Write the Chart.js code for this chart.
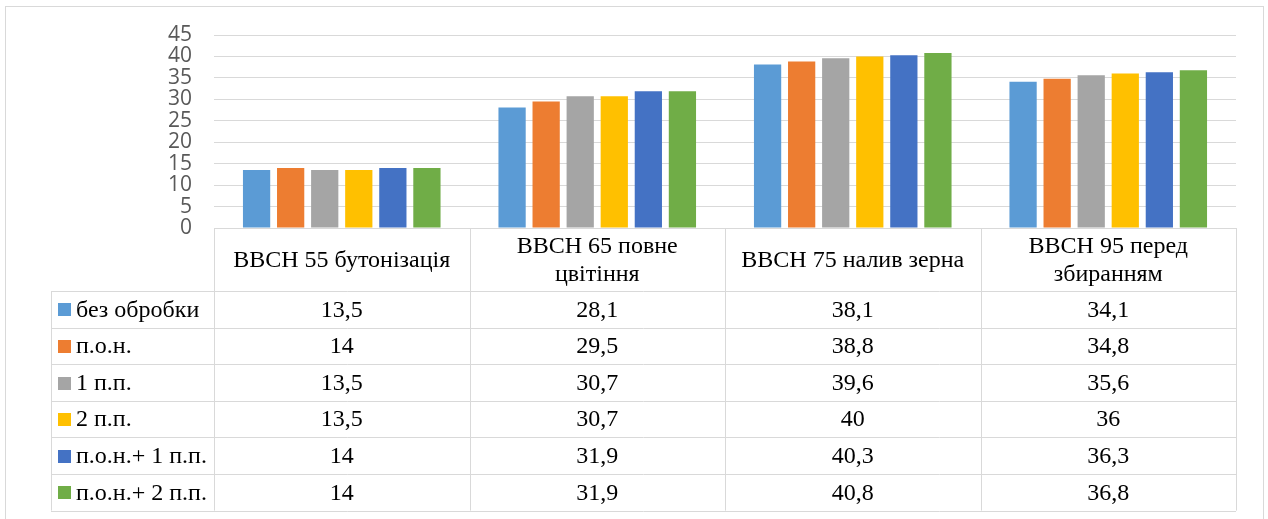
<!DOCTYPE html>
<html>
<head>
<meta charset="utf-8">
<script src="https://cdn.jsdelivr.net/npm/chart.js@4/dist/chart.umd.min.js"></script>
<style>
    html, body { margin: 0; padding: 0; background: #fff; }
    #wrap { width: 1268px; height: 519px; position: relative; }
</style>
</head>
<body>
<div id="wrap"><canvas id="growth"></canvas></div>
<script>
// categories (table header) - array of lines per cell
var categories = [
    ['ВВСН 55 бутонізація'],
    ['ВВСН 65 повне', 'цвітіння'],
    ['ВВСН 75 налив зерна'],
    ['ВВСН 95 перед', 'збиранням']
];
var seriesNames = ['без обробки', 'п.о.н.', '1 п.п.', '2 п.п.', 'п.о.н.+ 1 п.п.', 'п.о.н.+ 2 п.п.'];
var seriesColors = ['#5B9BD5', '#ED7D31', '#A5A5A5', '#FFC000', '#4472C4', '#70AD47'];

var bezObrobky = [13.5, 28.1, 38.1, 34.1];
var pon = [14, 29.5, 38.8, 34.8];
var pp1 = [13.5, 30.7, 39.6, 35.6];
var pp2 = [13.5, 30.7, 40, 36];
var ponPp1 = [14, 31.9, 40.3, 36.3];
var ponPp2 = [14, 31.9, 40.8, 36.8];
var seriesValues = [bezObrobky, pon, pp1, pp2, ponPp1, ponPp2];

var yTicks = [0, 5, 10, 15, 20, 25, 30, 35, 40, 45];

const GRID = '#d9d9d9';
const HEADER_H = 63;
const ROW_H = 36.6;
const LEGEND_LEFT = 51;
const SERIF = '24px "Liberation Serif", "Times New Roman", serif';

function fmt(v) {
    return String(v).replace('.', ',');
}

// draws the excel-like data table under the plot + the outer frame
const dataTablePlugin = {
    id: 'dataTable',
    afterDraw: function (chart) {
        const ctx = chart.ctx;
        const x = chart.scales.x;
        const area = chart.chartArea;
        const n = categories.length;
        const colW = (area.right - area.left) / n;
        const top = area.bottom;
        const rowsTop = top + HEADER_H;
        const bottom = rowsTop + ROW_H * seriesNames.length;

        ctx.save();
        // outer frame
        ctx.strokeStyle = GRID;
        ctx.lineWidth = 1;
        ctx.strokeRect(5.5, 6.5, 1258, 530);

        ctx.beginPath();
        ctx.moveTo(area.left, Math.round(top) + 0.5);
        ctx.lineTo(area.right, Math.round(top) + 0.5);
        for (let r = 0; r <= seriesNames.length; r++) {
            let y = Math.round(rowsTop + r * ROW_H) + 0.5;
            ctx.moveTo(LEGEND_LEFT, y);
            ctx.lineTo(area.right, y);
        }
        for (let c = 0; c <= n; c++) {
            let cx = Math.round(area.left + c * colW) + 0.5;
            ctx.moveTo(cx, top);
            ctx.lineTo(cx, bottom);
        }
        ctx.moveTo(LEGEND_LEFT + 0.5, rowsTop);
        ctx.lineTo(LEGEND_LEFT + 0.5, bottom);
        ctx.stroke();

        ctx.fillStyle = '#000';
        ctx.font = SERIF;
        ctx.textAlign = 'center';
        ctx.textBaseline = 'middle';

        categories.forEach(function (lines, i) {
            let cx = x.getPixelForValue(i);
            let cy = top + HEADER_H / 2 + 1;
            let lh = 28;
            lines.forEach(function (line, k) {
                ctx.fillText(line, cx, cy + (k - (lines.length - 1) / 2) * lh);
            });
        });

        seriesNames.forEach(function (name, r) {
            let cy = rowsTop + r * ROW_H + ROW_H / 2 + 1;
            ctx.fillStyle = seriesColors[r];
            ctx.fillRect(58, Math.round(cy - 7), 13, 13);
            ctx.fillStyle = '#000';
            ctx.textAlign = 'left';
            ctx.fillText(name, 76, cy);
            ctx.textAlign = 'center';
            seriesValues[r].forEach(function (v, i) {
                ctx.fillText(fmt(v), x.getPixelForValue(i), cy);
            });
        });
        ctx.restore();
    }
};

const data = {
    labels: categories.map(c => c.join(' ')),
    datasets: seriesNames.map(function (name, i) {
        return {
            label: name,
            data: seriesValues[i],
            backgroundColor: seriesColors[i],
            borderWidth: 0,
            categoryPercentage: 0.8,
            barPercentage: 0.8
        };
    })
};

const config = {
    type: 'bar',
    data: data,
    options: {
        responsive: true,
        maintainAspectRatio: false,
        animation: false,
        layout: {
            padding: { left: 0, right: 32, top: 35, bottom: 291 }
        },
        scales: {
            x: {
                display: false
            },
            y: {
                min: 0,
                max: 45,
                afterBuildTicks: function (scale) {
                    scale.ticks = yTicks.map(v => ({ value: v }));
                },
                afterFit: function (scale) {
                    scale.width = 214;
                },
                border: { display: false },
                grid: {
                    color: GRID,
                    lineWidth: 1,
                    drawTicks: false
                },
                ticks: {
                    autoSkip: false,
                    padding: 22,
                    color: '#595959',
                    font: { family: '"Open Sans", sans-serif', size: 21 }
                }
            }
        },
        plugins: {
            legend: { display: false },
            tooltip: { enabled: false }
        }
    },
    plugins: [dataTablePlugin]
};

var graphic = new Chart(document.getElementById('growth'), config);

if (document.fonts && document.fonts.load) {
    Promise.all([
        document.fonts.load(SERIF),
        document.fonts.load('21px "Open Sans"')
    ]).then(function () {
        graphic.update();
    });
}
</script>
</body>
</html>
